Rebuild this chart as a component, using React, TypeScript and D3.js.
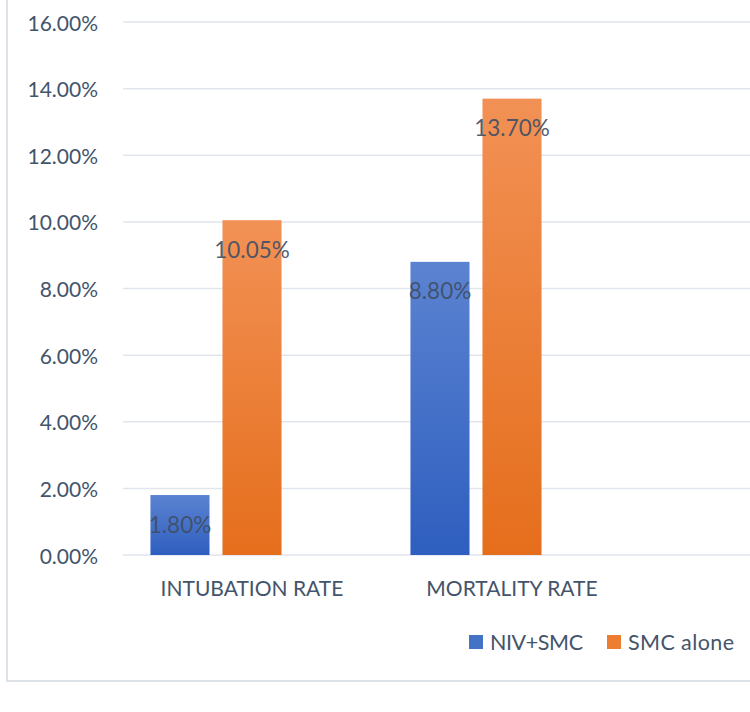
import React from "react";
import * as d3 from "d3";

const categories = ["INTUBATION RATE", "MORTALITY RATE"];
const seriesNames = ["NIV+SMC", "SMC alone"];
const nivSmc = [0.018, 0.088];
const smcAlone = [0.1005, 0.137];
const yTicks = [0, 0.02, 0.04, 0.06, 0.08, 0.1, 0.12, 0.14, 0.16];

const W = 750;
const H = 712;
const FONT = "Lato, 'Open Sans', sans-serif";
const TEXT = "#44546a";

export default function App() {
  const y = d3.scaleLinear().domain([0, 0.16]).range([555, 22]);
  const x = d3.scaleBand<string>().domain(categories).range([122, 642]);
  const slot = d3
    .scaleBand<number>()
    .domain([0, 1, 2])
    .range([0, x.bandwidth()])
    .paddingInner(0.18)
    .paddingOuter(0.395);
  const series = [nivSmc, smcAlone];
  const fills = ["url(#gBlue)", "url(#gOrange)"];
  const legendColors = ["#4472c4", "#ed7d31"];
  const fmt = (v: number) => (v * 100).toFixed(2) + "%";

  return (
    <svg
      width={W}
      height={H}
      style={{ position: "absolute", left: 0, top: 0, background: "#fff" }}
    >
      <defs>
        <linearGradient id="gBlue" x1="0" y1="0" x2="0" y2="1">
          <stop offset="0" stopColor="#5b83d1" />
          <stop offset="1" stopColor="#2e5ebf" />
        </linearGradient>
        <linearGradient id="gOrange" x1="0" y1="0" x2="0" y2="1">
          <stop offset="0" stopColor="#f29155" />
          <stop offset="1" stopColor="#e56e1c" />
        </linearGradient>
      </defs>
      <rect x={0} y={0} width={W} height={H} fill="#fff" />
      {/* frame */}
      <line x1={7} y1={-5} x2={7} y2={681} stroke="#dde1e8" strokeWidth={2} />
      <line x1={6} y1={681} x2={W + 5} y2={681} stroke="#dde1e8" strokeWidth={2} />
      {/* gridlines */}
      {yTicks.map((t) => (
        <g key={t}>
          <line
            x1={123}
            x2={W}
            y1={y(t)}
            y2={y(t)}
            stroke="#e1e5ec"
            strokeWidth={1.5}
          />
          <text
            x={98}
            y={y(t)}
            textAnchor="end"
            dominantBaseline="central"
            fontFamily={FONT}
            fontSize={21}
            fill={TEXT}
          >
            {fmt(t)}
          </text>
        </g>
      ))}
      {/* bars */}
      {categories.map((c, ci) => (
        <g key={c}>
          {series.map((s, si) => {
            const bx = (x(c) as number) + (slot(si) as number);
            const bw = slot.bandwidth();
            const by = y(s[ci]);
            return (
              <g key={si}>
                <rect
                  x={bx}
                  y={by}
                  width={bw}
                  height={y(0) - by}
                  fill={fills[si]}
                />
                <text
                  x={bx + bw / 2}
                  y={by + 29}
                  textAnchor="middle"
                  dominantBaseline="central"
                  fontFamily={FONT}
                  fontSize={22.5}
                  fill="#404e66"
                  fillOpacity={0.92}
                >
                  {fmt(s[ci])}
                </text>
              </g>
            );
          })}
          <text
            x={(x(c) as number) + x.bandwidth() / 2}
            y={587}
            textAnchor="middle"
            dominantBaseline="central"
            fontFamily={FONT}
            fontSize={21}
            fill={TEXT}
          >
            {c}
          </text>
        </g>
      ))}
      {/* legend */}
      {seriesNames.map((n, i) => {
        const lx = [469, 607][i];
        return (
          <g key={n}>
            <rect x={lx} y={635} width={14} height={14} fill={legendColors[i]} />
            <text
              x={lx + 21}
              y={642}
              dominantBaseline="central"
              fontFamily={FONT}
              fontSize={21.5}
              fill={TEXT}
              textLength={i === 0 ? 93 : 106}
              lengthAdjust="spacing"
            >
              {n}
            </text>
          </g>
        );
      })}
    </svg>
  );
}
